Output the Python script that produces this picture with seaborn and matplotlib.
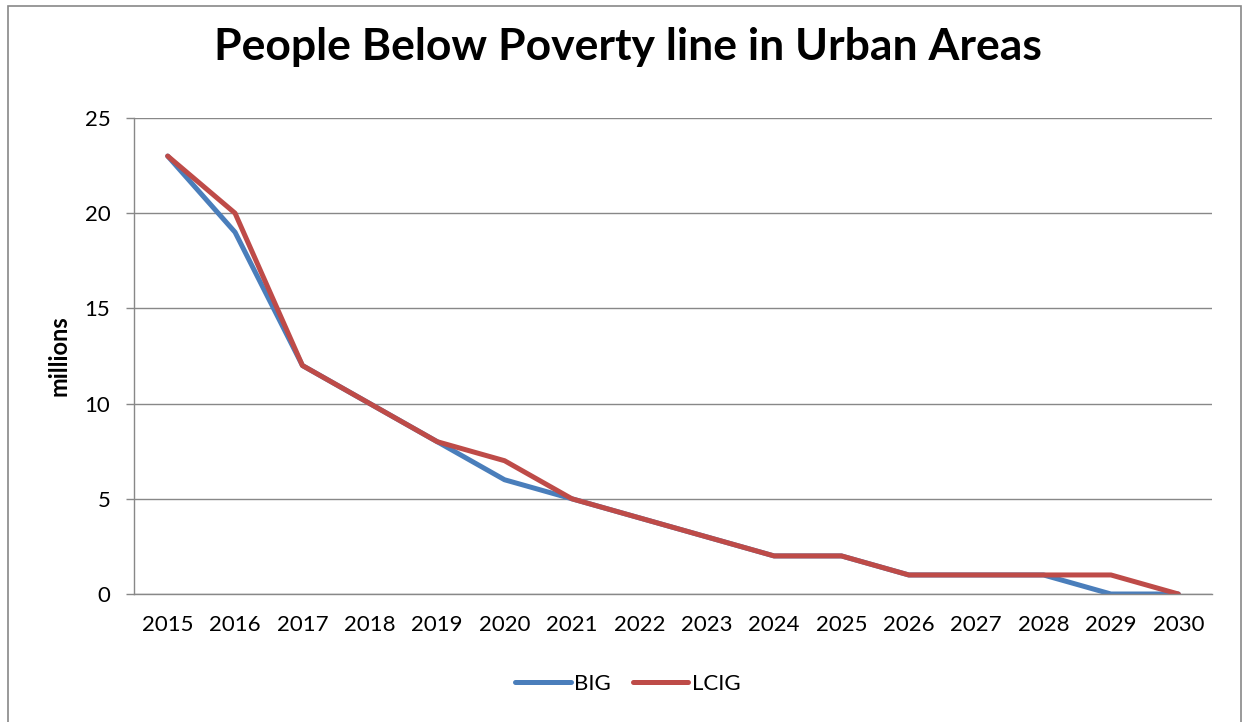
import pandas as pd
import matplotlib.pyplot as plt
import seaborn as sns
from matplotlib.patches import Rectangle

years = [2015, 2016, 2017, 2018, 2019, 2020, 2021, 2022,
         2023, 2024, 2025, 2026, 2027, 2028, 2029, 2030]
big = [23, 19, 12, 10, 8, 6, 5, 4, 3, 2, 2, 1, 1, 1, 0, 0]
lcig = [23, 20, 12, 10, 8, 7, 5, 4, 3, 2, 2, 1, 1, 1, 1, 0]
series_names = ["BIG", "LCIG"]
colors = ["#4A7EBB", "#BE4B48"]

rows = []
for name, vals in zip(series_names, [big, lcig]):
    for i, (yr, v) in enumerate(zip(years, vals)):
        rows.append({"pos": i, "year": yr, "value": v, "series": name})
df = pd.DataFrame(rows)

sns.set_style("white")
plt.rcParams['font.family'] = ['Lato', 'DejaVu Sans']
plt.rcParams['text.color'] = 'black'
plt.rcParams['xtick.color'] = 'black'
plt.rcParams['ytick.color'] = 'black'
plt.rcParams['axes.labelcolor'] = 'black'

fig = plt.figure(figsize=(12.43, 7.22), dpi=100)
ax = fig.add_axes([134 / 1243, 1 - 594 / 722, (1212 - 134) / 1243, (594 - 118) / 722])

sns.lineplot(data=df, x="pos", y="value", hue="series", palette=colors,
             linewidth=3.6, ax=ax, legend=True)

ax.set_xlim(-0.5, len(years) - 0.5)
ax.set_ylim(0, 25)
ax.set_yticks([0, 5, 10, 15, 20, 25])
ax.set_xticks(range(len(years)))
ax.set_xticklabels([str(y) for y in years], fontsize=16)
ax.set_xticks([i - 0.5 for i in range(len(years) + 1)], minor=True)
ax.tick_params(axis="x", which="major", length=0, pad=15, labelcolor="black")
ax.tick_params(axis="x", which="minor", length=6, color="#888888", width=1)
ax.tick_params(axis="y", labelsize=16, length=6, color="#888888", width=1,
               left=True, pad=11, labelcolor="black")
ax.yaxis.grid(True, color="#888888", linewidth=1)
ax.set_axisbelow(True)

for s in ["top", "right"]:
    ax.spines[s].set_visible(False)
for s in ["left", "bottom"]:
    ax.spines[s].set_color("#888888")
    ax.spines[s].set_linewidth(1)

ax.set_xlabel("")
ax.set_ylabel("millions", fontsize=17, fontweight="bold", labelpad=10)

fig.text(0.505, 1 - 47 / 722, "People Below Poverty line in Urban Areas",
         ha="center", va="center", fontsize=32, fontweight="bold")

handles, labels = ax.get_legend_handles_labels()
ax.legend(handles, labels, loc="center", bbox_to_anchor=(0.505, 1 - 684 / 722),
          bbox_transform=fig.transFigure, ncol=2, frameon=False, fontsize=16,
          handlelength=2.5, handletextpad=0.15, columnspacing=1.0)

fig.patches.append(Rectangle((8 / 1243, -0.02), (1241 - 8) / 1243, 1.02 - 6 / 722,
                             transform=fig.transFigure, fill=False,
                             edgecolor="#888888", linewidth=1.2))

fig.savefig("out.png", dpi=100)
plt.close(fig)
